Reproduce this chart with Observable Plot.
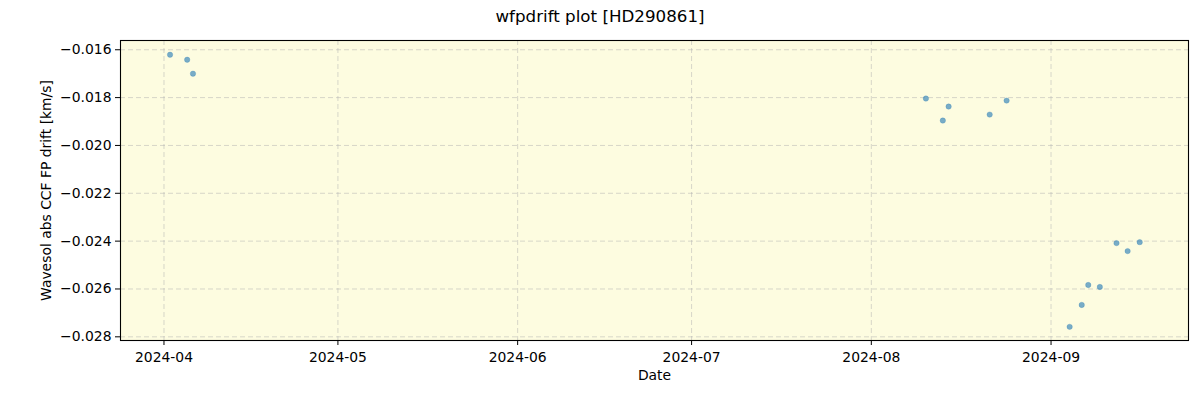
<!DOCTYPE html>
<html>
<head>
<meta charset="utf-8">
<script src="https://cdn.jsdelivr.net/npm/d3@7"></script>
<script src="https://cdn.jsdelivr.net/npm/@observablehq/plot@0.6"></script>
<style>
  body { margin: 0; background: #fff; font-family: "DejaVu Sans", sans-serif; }
  #title { height: 32px; line-height: 33px; text-align: center; font-size: 16.7px; color: #000; }
  #chart svg text { font-size: 13.9px; font-family: "DejaVu Sans", sans-serif; fill: #000; }
</style>
</head>
<body>
<div id="title">wfpdrift plot [HD290861]</div>
<div id="chart"></div>
<script>
const dates = [
  "2024-04-02T01:00", "2024-04-05T00:00", "2024-04-06T00:00",
  "2024-08-10T10:00", "2024-08-13T08:00", "2024-08-14T08:00", "2024-08-21T10:00", "2024-08-24T08:00",
  "2024-09-04T05:00", "2024-09-06T07:00", "2024-09-07T10:00", "2024-09-09T10:00",
  "2024-09-12T07:00", "2024-09-14T05:00", "2024-09-16T07:00"
];
const drift = [
  -0.016208, -0.016417, -0.017000,
  -0.018040, -0.018960, -0.018375, -0.018710, -0.018125,
  -0.027583, -0.026667, -0.025833, -0.025917,
  -0.024083, -0.024417, -0.024042
];
const yTicks = [-0.028, -0.026, -0.024, -0.022, -0.020, -0.018, -0.016];
const xTicks = ["2024-04-01", "2024-05-01", "2024-06-01", "2024-07-01", "2024-08-01", "2024-09-01"];

const data = dates.map((d, i) => ({date: new Date(d), value: drift[i]}));
const xTickDates = xTicks.map(d => new Date(d));
const fmtY = d => d.toFixed(3).replace("-", "\u2212");
const fmtX = d3.utcFormat("%Y-%m");

const chart = Plot.plot({
  width: 1200,
  height: 368,
  marginTop: 8,
  marginBottom: 60,
  marginLeft: 120,
  marginRight: 12,
  style: {fontFamily: "DejaVu Sans, sans-serif", fontSize: "13.9px", color: "#000", background: "#fff"},
  x: {type: "utc", domain: [new Date("2024-03-24T12:00"), new Date("2024-09-24T17:00")], label: null},
  y: {domain: [-0.028154, -0.015613], label: null},
  marks: [
    Plot.frame({fill: "#fdfce0", stroke: null}),
    Plot.gridX(xTickDates, {stroke: "#b0b0b0", strokeOpacity: 0.55, strokeDasharray: "5,3", strokeWidth: 0.9}),
    Plot.gridY(yTicks, {stroke: "#b0b0b0", strokeOpacity: 0.55, strokeDasharray: "5,3", strokeWidth: 0.9}),
    Plot.axisX(xTickDates, {tickFormat: fmtX, tickSize: 5, tickPadding: 7, label: null}),
    Plot.axisY(yTicks, {tickFormat: fmtY, tickSize: 5, tickPadding: 4, label: null}),
    Plot.dot(data, {x: "date", y: "value", r: 2.7, fill: "#1f77b4", fillOpacity: 0.6, stroke: "#1f77b4", strokeOpacity: 0.3, strokeWidth: 0.8}),
    Plot.frame({stroke: "#000", strokeWidth: 1.1}),
    Plot.text(["Date"], {frameAnchor: "bottom", dy: 39}),
    Plot.text(["Wavesol abs CCF FP drift [km/s]"], {frameAnchor: "left", textAnchor: "middle", dx: -74, rotate: -90})
  ]
});
document.getElementById("chart").appendChild(chart);
</script>
</body>
</html>
